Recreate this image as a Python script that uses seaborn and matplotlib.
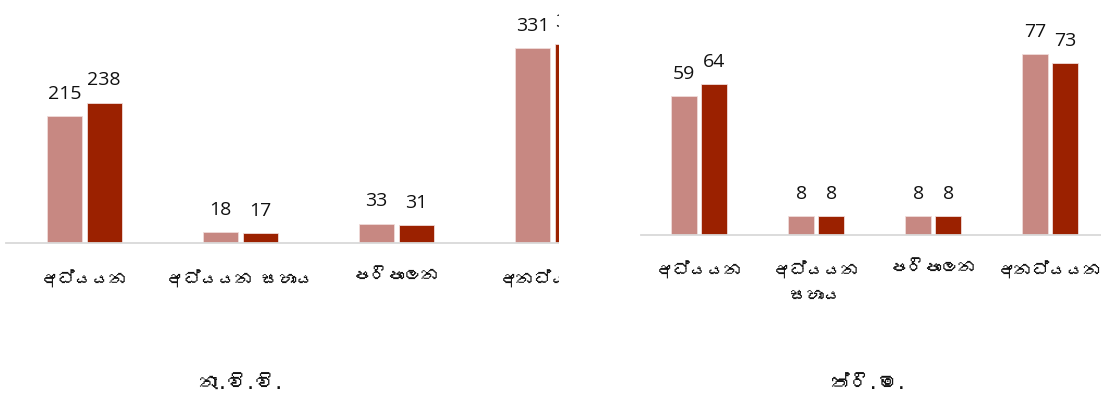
import numpy as np
import pandas as pd
import matplotlib
matplotlib.use("Agg")
import matplotlib.pyplot as plt
from matplotlib.patches import Rectangle
from matplotlib import font_manager as fm
from matplotlib.ft2font import FT2Font
import seaborn as sns

# ---------------- data ----------------
categories_left = ["අධ්‍යයන", "අධ්‍යයන සහාය", "පරිපාලන", "අනධ්‍යයන"]
categories_right = ["අධ්‍යයන", "අධ්‍යයන\nසහාය", "පරිපාලන", "අනධ්‍යයන"]
series_names = ["පළමු", "දෙවන"]
left_first = [215, 18, 33, 331]
left_second = [238, 17, 31, 337]
right_first = [59, 8, 8, 77]
right_second = [64, 8, 8, 73]
title_left = "නැ.වි.වි."
title_right = "ත්‍රි.ම."

colors = ["#C78882", "#9B2100"]


def show(s):
    # matplotlib does no complex shaping: drop the zero-width joiner
    return s.replace("\u200d", "")


# ---------------- fonts ----------------
def find_font(ch):
    seen = set()
    for f in fm.fontManager.ttflist:
        if f.fname in seen:
            continue
        seen.add(f.fname)
        try:
            ft = FT2Font(f.fname)
            if ord(ch) in ft.get_charmap():
                return f.name
        except Exception:
            pass
    return None


sns.set_theme(style="white")
sinhala_font = find_font("අ")
fams = ["Open Sans", "DejaVu Sans"]
sin_fams = ([sinhala_font] if sinhala_font else []) + ["DejaVu Sans"]
plt.rcParams["font.family"] = fams


def make_df(cats, a, b):
    return pd.DataFrame({
        "cat": cats * 2,
        "series": [series_names[0]] * len(cats) + [series_names[1]] * len(cats),
        "value": list(a) + list(b),
    })


W, H = 1101, 401
fig = plt.figure(figsize=(W / 100, H / 100), dpi=100)
fig.patch.set_facecolor("white")

# axes geometry in pixels: (left, right, baseline_y_from_top, px_per_unit)
specs = [
    (6.3, 630.3, 243.0, 0.59, categories_left, left_first, left_second),
    (640.7, 1108.7, 234.5, 2.345, categories_right, right_first, right_second),
]
axes = []
for (x0, x1, base, ppu, cats, a, b) in specs:
    ax = fig.add_axes([x0 / W, (H - base) / H, (x1 - x0) / W, base / H])
    df = make_df(cats, a, b)
    sns.barplot(data=df, x="cat", y="value", hue="series", order=cats,
                hue_order=series_names, palette=colors, saturation=1,
                width=0.51, gap=0.12, edgecolor="#F0DCDA", linewidth=0.6,
                legend=False, ax=ax, errorbar=None)
    ax.set_ylim(0, base / ppu)
    ax.set_xlim(-0.5, len(cats) - 0.5)
    for c in ax.containers:
        ax.bar_label(c, fmt="%d", padding=9.5, fontsize=14,
                     color="#111111", family=fams)
    for s in ["top", "right", "left"]:
        ax.spines[s].set_visible(False)
    ax.spines["bottom"].set_color("#D9D9D9")
    ax.spines["bottom"].set_linewidth(1.3)
    ax.set_yticks([])
    ax.set_xlabel("")
    ax.set_ylabel("")
    ax.tick_params(axis="x", length=0, pad=19)
    ax.set_xticks(range(len(cats)))
    ax.set_xticklabels([show(c) for c in cats], fontsize=12.5,
                       fontweight="bold", family=sin_fams, color="#111111",
                       va="top", linespacing=1.85)
    ax.set_facecolor("white")
    axes.append(ax)

# the left chart is cut off at its right side in the reference
fig.add_artist(Rectangle((559 / W, 0), (639 - 559) / W, 1,
                         transform=fig.transFigure, facecolor="white",
                         edgecolor="none", zorder=10))

fig.text(241 / W, 1 - 383 / H, show(title_left), ha="center", va="center",
         fontsize=13.5, fontweight="bold", family=sin_fams, color="#111111")
fig.text(869 / W, 1 - 383 / H, show(title_right), ha="center", va="center",
         fontsize=13.5, fontweight="bold", family=sin_fams, color="#111111")

fig.savefig("out.png", dpi=100, facecolor="white")
